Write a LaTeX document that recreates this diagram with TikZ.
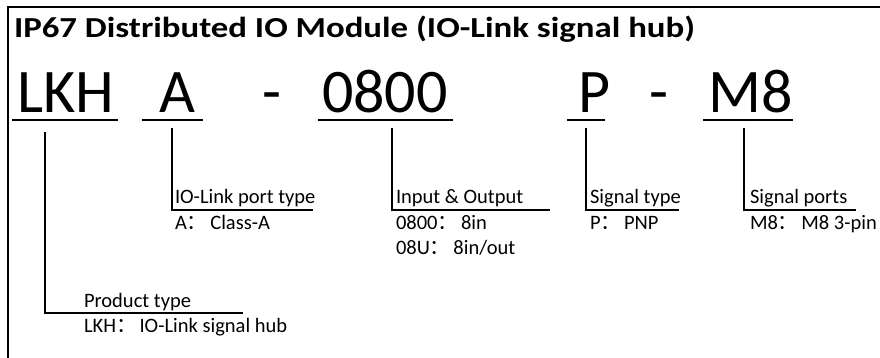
\documentclass[tikz,border=0pt]{standalone}
\usepackage{fontspec}
\setmainfont{Carlito}
\newfontfamily\cjk{Noto Sans CJK SC}
\newcommand{\fc}{{\cjk ：}\hspace{3pt}}
\tikzset{
  lbl/.style={anchor=base west, inner sep=0pt, outer sep=0pt, font=\fontsize{20.5}{20.5}\selectfont},
  code/.style={anchor=base west, inner sep=0pt, outer sep=0pt, font=\fontsize{62}{62}\selectfont},
  ttl/.style={anchor=base west, inner sep=0pt, outer sep=0pt, xscale=1.2, font=\fontsize{29}{29}\selectfont\bfseries},
  uline/.style={line width=2pt},
  callout/.style={line width=2pt},
}
\begin{document}
\begin{tikzpicture}[x=1pt,y=-1pt]
\useasboundingbox (0,0) rectangle (880,358);
% frame
\draw[line width=2pt] (8,358) -- (8,7) -- (880,7);
% title
\node[ttl] (title) at (14,38) {IP67 Distributed IO Module (IO-Link signal hub)};
% code
\node[code] (lkh) at (17,113) {LKH};
\node[code] (a) at (159,113) {A};
\node[code] (d1) at (262,113) {-};
\node[code] (num) at (322,113) {0800};
\node[code] (p) at (578,113) {P};
\node[code] (d2) at (649,113) {-};
\node[code] (m8) at (708,113) {M8};
% underlines
\coordinate (u1a) at (12,120); \coordinate (u1b) at (118,120);
\coordinate (u2a) at (142,120); \coordinate (u2b) at (203,120);
\coordinate (u3a) at (318,120); \coordinate (u3b) at (453,120);
\coordinate (u4a) at (567,120); \coordinate (u4b) at (605,120);
\coordinate (u5a) at (703,120); \coordinate (u5b) at (793,120);
\draw[uline] (u1a) -- (u1b);
\draw[uline] (u2a) -- (u2b);
\draw[uline] (u3a) -- (u3b);
\draw[uline] (u4a) -- (u4b);
\draw[uline] (u5a) -- (u5b);
% labels
\node[lbl] (pt) at (84,307) {Product type};
\node[lbl] (ptv) at (84,332) {LKH\fc IO-Link signal hub};
\node[lbl] (io) at (175,204) {IO-Link port type};
\node[lbl] (iov) at (175,229) {A\fc Class-A};
\node[lbl] (ino) at (396,204) {Input \& Output};
\node[lbl] (inov1) at (396,229) {0800\fc 8in};
\node[lbl] (inov2) at (396,254) {08U\fc 8in/out};
\node[lbl] (st) at (590,204) {Signal type};
\node[lbl] (stv) at (590,229) {P\fc PNP};
\node[lbl] (sp) at (750,204) {Signal ports};
\node[lbl] (spv) at (750,229) {M8\fc M8 3-pin};
% callouts
\coordinate (c1t) at (45,132); \coordinate (c1c) at (45,313); \coordinate (c1e) at (243,313);
\coordinate (c2t) at (172,128); \coordinate (c2c) at (172,210); \coordinate (c2e) at (313,210);
\coordinate (c3t) at (392,128); \coordinate (c3c) at (392,210); \coordinate (c3e) at (550,210);
\coordinate (c4t) at (586,128); \coordinate (c4c) at (586,210); \coordinate (c4e) at (679,210);
\coordinate (c5t) at (744,128); \coordinate (c5c) at (744,210); \coordinate (c5e) at (856,210);
\draw[callout] (c1t) -- (c1c) -- (c1e);
\draw[callout] (c2t) -- (c2c) -- (c2e);
\draw[callout] (c3t) -- (c3c) -- (c3e);
\draw[callout] (c4t) -- (c4c) -- (c4e);
\draw[callout] (c5t) -- (c5c) -- (c5e);
\end{tikzpicture}
\end{document}
